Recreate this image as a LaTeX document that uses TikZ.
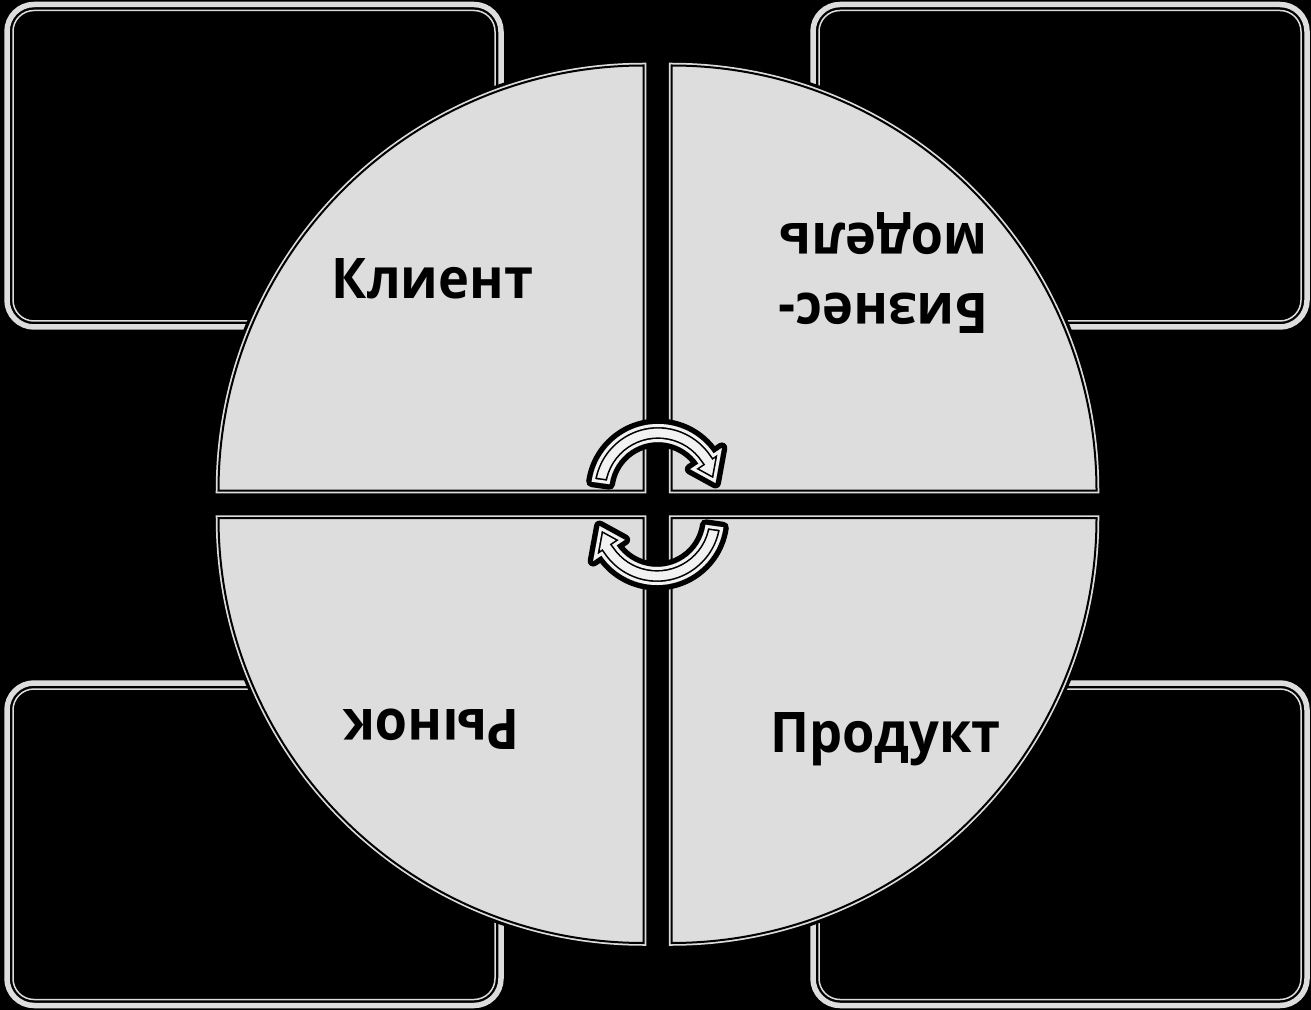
\documentclass[tikz,border=0pt]{standalone}
\usepackage{fontspec}
\setmainfont{Open Sans}[FakeStretch=0.935]
\usetikzlibrary{calc}

\definecolor{quadgray}{HTML}{DDDDDD}
\definecolor{arrowfill}{HTML}{F2F2F2}

% outline of one turning arrow, centred on the origin
\newcommand{\turnpath}{(172:67) arc[start angle=172,end angle=34,radius=67] -- (34:77) -- (8:58) -- (34:39) -- (34:49) arc[start angle=34,end angle=172,radius=49] -- cycle}

\newcommand{\turnarrow}[1]{%
  \begin{scope}[#1]
    \draw[black,line width=5.5pt,line join=round] \turnpath;
    \fill[arrowfill] \turnpath;
    \begin{scope}
      \clip \turnpath;
      \draw[black,line width=4.6pt] \turnpath;
      \draw[arrowfill,line width=3pt] \turnpath;
    \end{scope}
  \end{scope}}

\begin{document}
\begin{tikzpicture}[x=0.5pt,y=-0.5pt]
  \tikzstyle{frame}=[draw=quadgray,line width=2.75pt,rounded corners=13.5pt]
  \tikzstyle{innerframe}=[draw=quadgray,line width=0.75pt,rounded corners=10.5pt]
  \tikzstyle{quadhalo}=[draw=black,line width=6pt]
  \tikzstyle{quad}=[fill=quadgray,draw=quadgray,line width=2.75pt]
  \tikzstyle{quadline}=[draw=black,line width=1pt]
  \tikzstyle{quadlabel}=[font=\fontsize{28}{35}\selectfont\bfseries,text=black,align=center,inner sep=0pt]

  % background
  \fill[black] (0,0) rectangle (1311,1010);
  \useasboundingbox (0,0) rectangle (1311,1010);

  % corner frames
  \foreach \x/\y in {7/4.5, 813/4.5, 7/683, 813/683} {
    \draw[frame] (\x,\y) rectangle ++(494,322.5);
    \draw[innerframe] (\x+6,\y+6) rectangle ++(482,310.5);
  }

  % quarter discs
  \foreach \cx/\cy/\a in {643.5/490.5/180, 671.5/490.5/270, 671.5/518/0, 643.5/518/90} {
    \draw[quadhalo] (\cx,\cy) -- ++(\a:425) arc[start angle=\a,end angle=\a+90,radius=425] -- cycle;
    \draw[quad] (\cx,\cy) -- ++(\a:425) arc[start angle=\a,end angle=\a+90,radius=425] -- cycle;
    \draw[quadline] (\cx,\cy) -- ++(\a:425) arc[start angle=\a,end angle=\a+90,radius=425] -- cycle;
  }

  % turning arrows in the middle
  \turnarrow{shift={(658,491)},yscale=-1}
  \turnarrow{shift={(657,518)},yscale=-1,rotate=180}

  % labels
  \node[quadlabel,anchor=base] (client) at (432.5,299) {Клиент};
  \node[quadlabel,rotate=180] (bizmodel) at (883.5,273.5) {Бизнес-\\модель};
  \node[quadlabel,anchor=base,rotate=180] (market) at (431.5,709) {Рынок};
  \node[quadlabel,anchor=base] (product) at (885.5,752) {Продукт};
\end{tikzpicture}
\end{document}
